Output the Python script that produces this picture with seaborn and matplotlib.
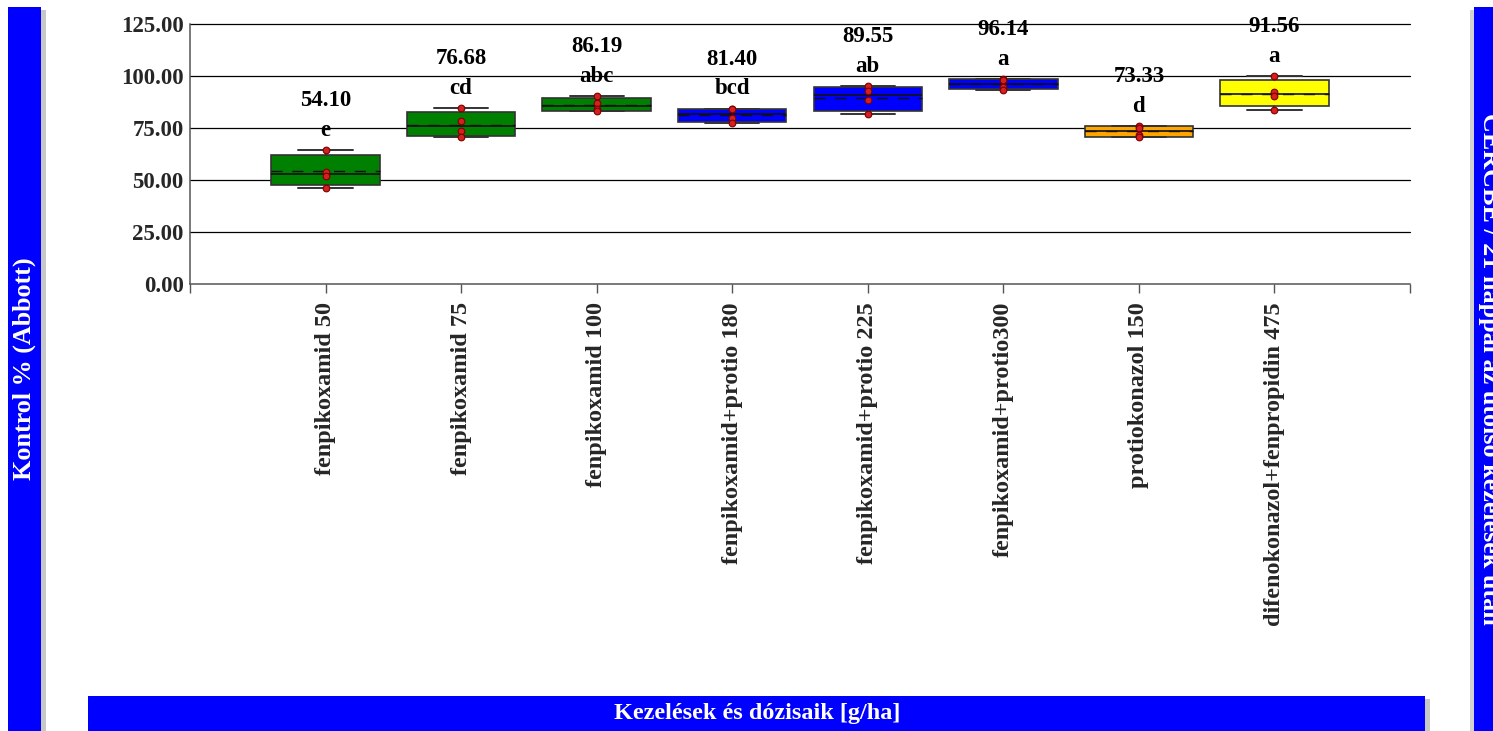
import numpy as np
import pandas as pd
import matplotlib
matplotlib.use("Agg")
import matplotlib.pyplot as plt
from matplotlib.patches import Rectangle
import seaborn as sns

# Treatments and their doses
treatments = [
    "fenpikoxamid 50",
    "fenpikoxamid 75",
    "fenpikoxamid 100",
    "fenpikoxamid+protio 180",
    "fenpikoxamid+protio 225",
    "fenpikoxamid+protio300",
    "protiokonazol 150",
    "difenokonazol+fenpropidin 475",
]

# Control efficacy (Abbott %) of the four replicates per treatment
rep1 = [64.50, 84.50, 90.40, 84.30, 95.30, 98.60, 76.00, 99.90]
rep2 = [53.80, 78.20, 87.20, 84.00, 92.80, 98.00, 75.00, 92.20]
rep3 = [51.90, 73.50, 84.16, 79.80, 88.60, 94.60, 71.80, 90.50]
rep4 = [46.20, 70.52, 83.00, 77.50, 81.50, 93.36, 70.52, 83.64]

# Significance groups
letters = ["e", "cd", "abc", "bcd", "ab", "a", "d", "a"]

box_colors = ["#008000", "#008000", "#008000",
              "#0000FF", "#0000FF", "#0000FF",
              "#FFA500", "#FFFF00"]

y_ticks = [0, 25, 50, 75, 100, 125]

df = pd.DataFrame({
    "kezeles": treatments * 4,
    "kontroll": rep1 + rep2 + rep3 + rep4,
})

W, H = 1493, 731
sns.set_theme(style="white")
plt.rcParams["font.family"] = ["Liberation Serif", "DejaVu Serif"]
plt.rcParams["font.weight"] = "bold"

fig = plt.figure(figsize=(W / 100, H / 100), dpi=100)
fig.patch.set_facecolor("white")
ax = fig.add_axes([190 / W, 1 - 284 / H, (1410 - 190) / W, (284 - 24) / H])
ax.set_facecolor("white")

# Box statistics (quartiles on the (n+1)p rule)
stats = []
for name in treatments:
    vals = df.loc[df["kezeles"] == name, "kontroll"].to_numpy()
    q1, med, q3 = np.percentile(vals, [25, 50, 75], method="weibull")
    stats.append(dict(med=med, q1=q1, q3=q3, whislo=vals.min(), whishi=vals.max(),
                      mean=vals.mean(), fliers=[], label=name))

art = ax.bxp(
    stats, positions=range(len(treatments)), widths=0.8, patch_artist=True,
    showmeans=True, meanline=True, showfliers=False,
    boxprops=dict(edgecolor="#333333", linewidth=1.2),
    whiskerprops=dict(color="#333333", linewidth=1.2),
    capprops=dict(color="#333333", linewidth=1.4),
    medianprops=dict(color="#111111", linewidth=1.2),
    meanprops=dict(color="#111111", linewidth=1.0, linestyle=(0, (8, 7))),
    zorder=3,
)
for patch, c in zip(art["boxes"], box_colors):
    patch.set_facecolor(c)

sns.stripplot(data=df, x="kezeles", y="kontroll", order=treatments, jitter=False,
              color="#D42020", edgecolor="#7A0000", linewidth=0.8, size=4.8,
              ax=ax, zorder=6)

# Mean values and significance letters above each box
for i, name in enumerate(treatments):
    vals = df.loc[df["kezeles"] == name, "kontroll"]
    top = vals.max()
    ax.annotate(letters[i], xy=(i, top), xytext=(0, 14.2), textcoords="offset points",
                ha="center", va="center", fontsize=16.5, fontweight="bold", color="black",
                zorder=8)
    ax.annotate(f"{vals.mean():.2f}", xy=(i, top), xytext=(0, 35.5), textcoords="offset points",
                ha="center", va="center", fontsize=16.5, fontweight="bold", color="black",
                zorder=8)

ax.set_xlim(-1, len(treatments))
ax.set_ylim(0, 125)
ax.set_yticks(y_ticks)
ax.set_yticklabels([f"{v:.2f}" for v in y_ticks], fontsize=16.5, fontweight="bold")
ax.set_xticks(range(-1, len(treatments) + 1))
ax.set_xticklabels([""] + treatments + [""], rotation=90, fontsize=17.5, fontweight="bold",
                   va="top", ha="center")
ax.tick_params(axis="x", length=6.5, width=1.0, color="#555555", pad=6.5, bottom=True)
ax.tick_params(axis="y", length=0, pad=4.5, left=False)
ax.set_xlabel("")
ax.set_ylabel("")
ax.grid(False)
for y in y_ticks[1:]:
    ax.axhline(y, color="black", linewidth=0.9, zorder=1, clip_on=False)
for side in ("top", "right"):
    ax.spines[side].set_visible(False)
for side in ("left", "bottom"):
    ax.spines[side].set_color("#555555")
    ax.spines[side].set_linewidth(1.1)
ax.spines["bottom"].set_zorder(4)


def fig_rect(x0, y0, x1, y1, **kw):
    """Rectangle given in pixel coordinates from the top-left corner."""
    fig.add_artist(Rectangle((x0 / W, 1 - y1 / H), (x1 - x0) / W, (y1 - y0) / H,
                             transform=fig.transFigure, **kw))


blue = "#0000FF"
shadow = "#9a9a9a"
# Left title panel
fig_rect(41, 10, 46, H, facecolor=shadow, edgecolor="none", alpha=0.55)
fig_rect(8, 7, 41, H, facecolor=blue, edgecolor="none")
fig.text(24.5 / W, 1 - 369 / H, "Kontrol % (Abbott)", rotation=90, ha="center", va="center",
         color="white", fontsize=18.8, fontweight="bold")
# Bottom title panel
fig_rect(1425, 699, 1430, H, facecolor=shadow, edgecolor="none", alpha=0.55)
fig_rect(88, 696, 1425, H, facecolor=blue, edgecolor="none")
fig.text(757 / W, 1 - 714 / H, "Kezelések és dózisaik [g/ha]", ha="center", va="center",
         color="white", fontsize=17.5, fontweight="bold")
# Right title panel (runs past the figure edge)
fig_rect(1470, 10, 1474, H, facecolor=shadow, edgecolor="none", alpha=0.45)
fig_rect(1474, 7, W + 5, H, facecolor=blue, edgecolor="none")
fig.text(1489 / W, 1 - 369 / H, "CERCBE / 21 nappal az utolsó kezelések után", rotation=270,
         ha="center", va="center", color="white", fontsize=18.8, fontweight="bold")

fig.savefig("out.png", dpi=100, facecolor="white")
